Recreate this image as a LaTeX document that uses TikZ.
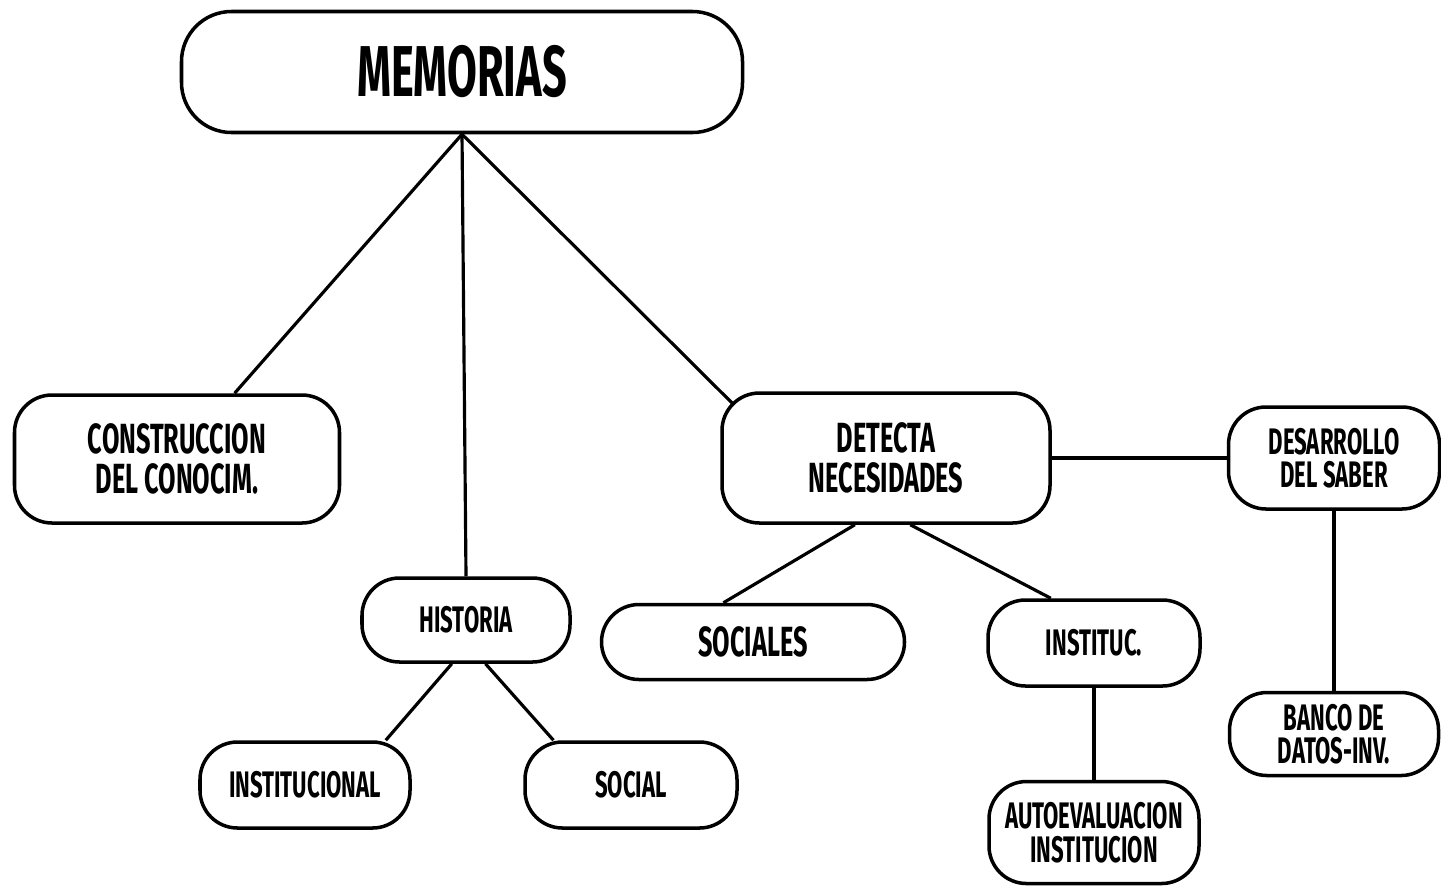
\documentclass[tikz,border=0pt]{standalone}
\usepackage{fontspec}
\setmainfont[FakeStretch=0.6]{Fira Sans}
\usetikzlibrary{positioning, backgrounds}
\tikzset{
	concept/.style={
		draw,
		fill=white,
		line width=2pt,
		rounded corners=0.75cm,
		align=center,
		inner sep=0pt
	},
	bigtext/.style={
		font=\bfseries\fontsize{24}{23}\selectfont
	},
	smalltext/.style={
		font=\bfseries\fontsize{21}{19}\selectfont
	},
	link/.style={
		line width=1.8pt
	}
}

\begin{document}
\begin{tikzpicture}
	\useasboundingbox (0,0) rectangle (28.82,-17.72);

	% root
	\node[concept, rounded corners=1cm, minimum width=11.22cm, minimum height=2.42cm,
		font=\bfseries\fontsize{41}{41}\selectfont] (memorias) at (9.24,-1.44) {MEMORIAS};

	% first level
	\node[concept, bigtext, minimum width=6.5cm, minimum height=2.56cm] (construccion) at (3.54,-9.18) {CONSTRUCCION\\DEL CONOCIM.};
	\node[concept, smalltext, minimum width=4.16cm, minimum height=1.68cm] (historia) at (9.32,-12.4) {HISTORIA};
	\node[concept, bigtext, minimum width=6.56cm, minimum height=2.6cm] (detecta) at (17.72,-9.16) {DETECTA\\NECESIDADES};
	\node[concept, smalltext, minimum width=4.22cm, minimum height=2.04cm, right=3.5cm of detecta] (desarrollo) {DESARROLLO\\DEL SABER};

	% second level
	\node[concept, smalltext, minimum width=4.2cm, minimum height=1.72cm] (institucional) at (6.1,-15.7) {INSTITUCIONAL};
	\node[concept, smalltext, minimum width=4.24cm, minimum height=1.72cm] (social) at (12.62,-15.7) {SOCIAL};
	\node[concept, bigtext, minimum width=6.06cm, minimum height=1.5cm] (sociales) at (15.06,-12.84) {SOCIALES};
	\node[concept, smalltext, minimum width=4.24cm, minimum height=1.72cm] (instituc) at (21.88,-12.86) {INSTITUC.};
	\node[concept, smalltext, minimum width=4.2cm, minimum height=2.04cm, below=1.84cm of instituc] (autoeval) {AUTOEVALUACION\\INSTITUCION};
	\node[concept, smalltext, minimum width=4.18cm, minimum height=1.66cm, below=3.6cm of desarrollo] (banco) {BANCO DE\\DATOS-INV.};

	% connections (behind the boxes)
	\begin{scope}[on background layer]
	\draw[link] (memorias.south) -- (construccion);
	\draw[link] (memorias.south) -- (historia.north);
	\draw[link, shorten >=-0.6cm] (memorias.south) -- (detecta.north west);
	\draw[link] (historia.-108) -- (institucional.29);
	\draw[link] (historia.-66) -- (social.150);
	\draw[link] (detecta.-115) -- (sociales.127);
	\draw[link] (detecta.-70) -- (instituc.134);
	\draw[link] (detecta) -- (desarrollo);
	\draw[link] (instituc) -- (autoeval);
	\draw[link] (desarrollo) -- (banco);
	\end{scope}
\end{tikzpicture}
\end{document}
